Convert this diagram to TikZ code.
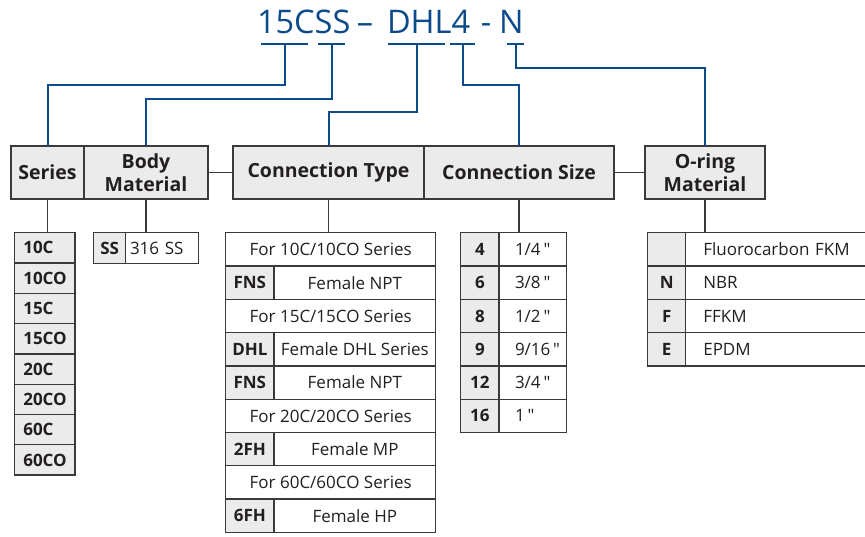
\documentclass[tikz,border=0pt]{standalone}
\usepackage{fontspec}
\setmainfont{Open Sans}
\usepackage{tikz}
\usetikzlibrary{positioning}

\definecolor{leadBlue}{HTML}{0B4A8B}
\definecolor{cellGray}{HTML}{EBEBEB}
\definecolor{edgeGray}{HTML}{3A3A3A}
\definecolor{inkBlack}{HTML}{231F20}
\newcommand{\tabFont}{\fontsize{17}{20}\selectfont}
\newcommand{\headFont}{\fontsize{19.5}{23}\selectfont\bfseries}
\newcommand{\inch}{\,\textquotedbl}

\begin{document}
\begin{tikzpicture}[x=1pt, y=-1pt,
    every node/.style={inner sep=0pt, outer sep=0pt, text=inkBlack},
    title/.style={font=\fontsize{32.5}{36}\selectfont, text=leadBlue},
    lead/.style={draw=leadBlue, line width=2pt},
    link/.style={draw=edgeGray, line width=1.3pt},
    bar/.style={fill=leadBlue, minimum height=2pt},
    head/.style={link, fill=cellGray, minimum height=53pt, align=center, font=\headFont},
    textCell/.style={link, fill=white, anchor=north west, minimum height=33.3pt, font=\tabFont},
    codeCell/.style={textCell, fill=cellGray, font=\tabFont\bfseries}
]
    \useasboundingbox (0, 0) rectangle (865, 536);
    \clip (0, 0) rectangle (865, 536);

    % part number
    \node[title, anchor=base west] (t15CSS) at (257, 33.5) {15CSS};
    \node[title, anchor=base] (tDash) at (365, 33.5) {–};
    \node[title, anchor=base west] (tDHL4) at (387, 33.5) {DHL4};
    \node[title, anchor=base] (tHyph) at (486, 33.5) {-};
    \node[title, anchor=base east] (tN) at (523.5, 33.5) {N};

    \node[bar, minimum width=47pt] (b15C) at (284.5, 44) {};
    \node[bar, minimum width=27pt] (bSS) at (331.5, 44) {};
    \node[bar, minimum width=57pt] (bDHL) at (416.5, 44) {};
    \node[bar, minimum width=25pt] (b4) at (462.5, 44) {};
    \node[bar, minimum width=17pt] (bN) at (515.5, 44) {};

    % headings
    \node[head, minimum width=73pt] (series) at (47.5, 172.5) {Series};
    \node[head, minimum width=124pt, right=0pt of series] (bodyMat) {Body\\Material};
    \node[head, minimum width=191pt] (connType) at (328.5, 172.5) {Connection Type};
    \node[head, minimum width=190pt, right=0pt of connType] (connSize) {Connection Size};
    \node[head, minimum width=120pt] (oRing) at (705, 172.5) {O-ring\\Material};

    \draw[lead] (b15C.center) -- ++(0, 41) -| (series.north);
    \draw[lead] (bSS.center) -- ++(0, 55) -| (bodyMat.north);
    \draw[lead] (bDHL.center) -- ++(0, 68) -| (connType.north);
    \draw[lead] (b4.center) -- ++(0, 41) -| (connSize.north);
    \draw[lead] (bN.center) -- ++(0, 24) -| (oRing.north);

    \draw[link] (bodyMat) -- (connType);
    \draw[link] (connSize) -- (oRing);

    % series
    \foreach \code [count=\i from 0] in {10C, 10CO, 15C, 15CO, 20C, 20CO, 60C, 60CO}
        \node[codeCell, minimum height=30.3pt, text width=42.7pt, inner xsep=9pt, align=left]
            (ser\i) at (14.3, {232.7 + 30.3*\i}) {\code};

    % body material
    \node[codeCell, minimum width=32pt, minimum height=30.6pt] (bodySS) at (93.7, 232.7) {SS};
    \node[textCell, minimum height=30.6pt, text width=64.4pt, inner xsep=4.3pt, align=left]
        (bodySSTxt) at (bodySS.north east) {316 SS};

    % connection type
    \node[textCell, minimum width=210pt] (ct0) at (225.7, 232.7) {For 10C/10CO Series};
    \node[codeCell, minimum width=48.3pt] (ct1) at (ct0.south west) {FNS};
    \node[textCell, minimum width=161.7pt] (ct1d) at (ct1.north east) {Female NPT};
    \node[textCell, minimum width=210pt] (ct2) at (ct1.south west) {For 15C/15CO Series};
    \node[codeCell, minimum width=48.3pt] (ct3) at (ct2.south west) {DHL};
    \node[textCell, minimum width=161.7pt] (ct3d) at (ct3.north east) {Female DHL Series};
    \node[codeCell, minimum width=48.3pt] (ct4) at (ct3.south west) {FNS};
    \node[textCell, minimum width=161.7pt] (ct4d) at (ct4.north east) {Female NPT};
    \node[textCell, minimum width=210pt] (ct5) at (ct4.south west) {For 20C/20CO Series};
    \node[codeCell, minimum width=48.3pt] (ct6) at (ct5.south west) {2FH};
    \node[textCell, minimum width=161.7pt] (ct6d) at (ct6.north east) {Female MP};
    \node[textCell, minimum width=210pt] (ct7) at (ct6.south west) {For 60C/60CO Series};
    \node[codeCell, minimum width=48.3pt] (ct8) at (ct7.south west) {6FH};
    \node[textCell, minimum width=161.7pt] (ct8d) at (ct8.north east) {Female HP};

    % connection size
    \node[codeCell, minimum width=38.3pt] (sz0) at (460.7, 232.7) {4};
    \node[textCell, text width=35.7pt, inner xsep=16pt, align=left] (sz0d) at (sz0.north east) {1/4\inch};
    \node[codeCell, minimum width=38.3pt] (sz1) at (sz0.south west) {6};
    \node[textCell, text width=35.7pt, inner xsep=16pt, align=left] (sz1d) at (sz1.north east) {3/8\inch};
    \node[codeCell, minimum width=38.3pt] (sz2) at (sz1.south west) {8};
    \node[textCell, text width=35.7pt, inner xsep=16pt, align=left] (sz2d) at (sz2.north east) {1/2\inch};
    \node[codeCell, minimum width=38.3pt] (sz3) at (sz2.south west) {9};
    \node[textCell, text width=35.7pt, inner xsep=16pt, align=left] (sz3d) at (sz3.north east) {9/16\inch};
    \node[codeCell, minimum width=38.3pt] (sz4) at (sz3.south west) {12};
    \node[textCell, text width=35.7pt, inner xsep=16pt, align=left] (sz4d) at (sz4.north east) {3/4\inch};
    \node[codeCell, minimum width=38.3pt] (sz5) at (sz4.south west) {16};
    \node[textCell, text width=35.7pt, inner xsep=16pt, align=left] (sz5d) at (sz5.north east) {1\inch};

    % o-ring material
    \node[codeCell, minimum width=38pt] (or0) at (647.7, 232.7) {};
    \node[textCell, text width=159pt, inner xsep=17.6pt, align=left] (or0d) at (or0.north east) {Fluorocarbon FKM};
    \node[codeCell, minimum width=38pt] (or1) at (or0.south west) {N};
    \node[textCell, text width=159pt, inner xsep=17.6pt, align=left] (or1d) at (or1.north east) {NBR};
    \node[codeCell, minimum width=38pt] (or2) at (or1.south west) {F};
    \node[textCell, text width=159pt, inner xsep=17.6pt, align=left] (or2d) at (or2.north east) {FFKM};
    \node[codeCell, minimum width=38pt] (or3) at (or2.south west) {E};
    \node[textCell, text width=159pt, inner xsep=17.6pt, align=left] (or3d) at (or3.north east) {EPDM};

    \draw[link] (series) -- (series |- ser0.north);
    \draw[link] (bodyMat) -- (bodyMat |- bodySS.north);
    \draw[link] (connType) -- (connType |- ct0.north);
    \draw[link] (connSize) -- (connSize |- sz0.north);
    \draw[link] (oRing) -- (oRing |- or0.north);
\end{tikzpicture}
\end{document}
